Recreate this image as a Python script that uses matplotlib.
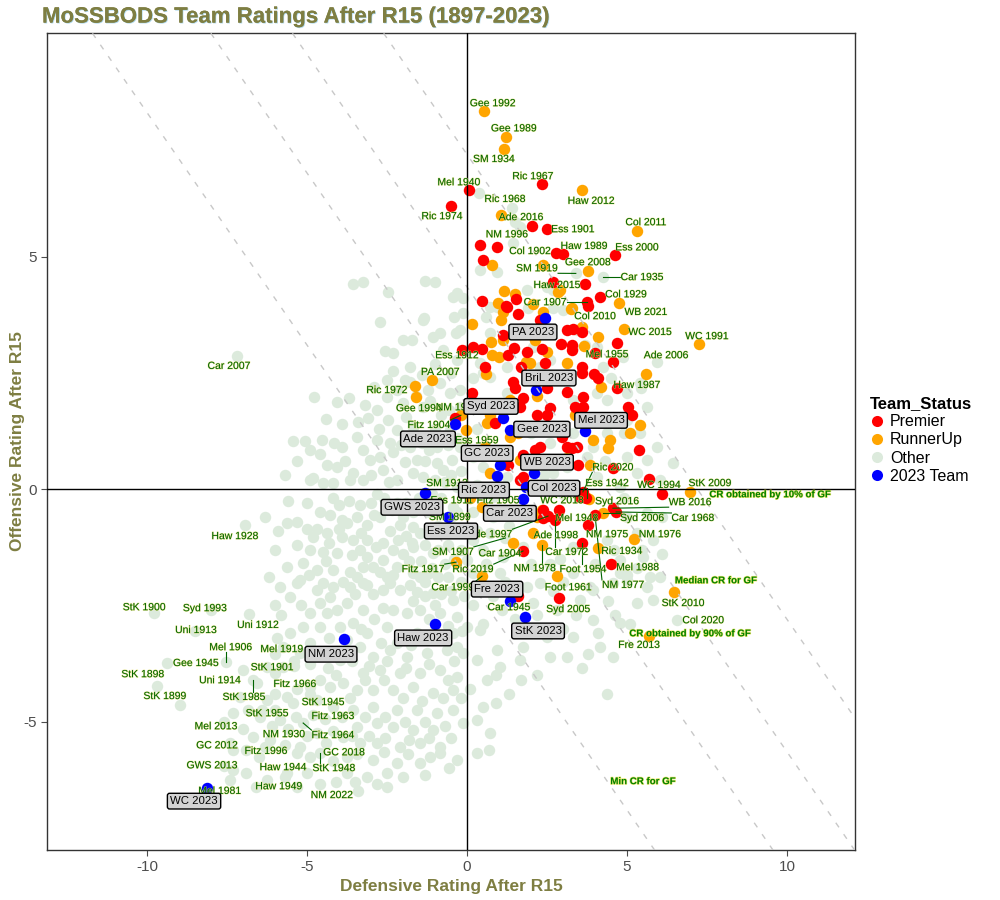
import matplotlib
matplotlib.use("Agg")
import matplotlib.pyplot as plt
import matplotlib.patheffects as pe
from matplotlib.lines import Line2D
import numpy as np

plt.rcParams['font.family'] = ['Liberation Sans', 'DejaVu Sans']
plt.rcParams['axes.unicode_minus'] = False

# ---- data: (defensive, offensive) ratings after R15 ----
# labelled historical teams
lab_names = ['Gee 1992', 'Gee 1989', 'SM 1934', 'Ric 1967', 'Mel 1940', 'Haw 2012', 'Ric 1968', 'Ric 1974',
             'Ade 2016', 'Ess 1901', 'NM 1996', 'Col 2011', 'Col 1902', 'Haw 1989', 'Ess 2000', 'SM 1919',
             'Gee 2008', 'Car 1935', 'Haw 2015', 'Col 1929', 'Car 1907', 'WB 2021', 'Col 2010', 'WC 2015',
             'WC 1991', 'Ess 1912', 'Mel 1955', 'Ade 2006', 'PA 2007', 'Haw 1987', 'Ric 1972', 'Gee 1994',
             'NM 1999', 'Fitz 1904', 'Ess 1959', 'SM 1913', 'Ess 1911', 'Fitz 1905', 'WC 2018', 'SM 1899',
             'Ade 1997', 'Mel 1948', 'Syd 2016', 'WB 2016', 'Car 1968', 'Syd 2006', 'Ric 2020', 'Ess 1942',
             'WC 1994', 'StK 2009', 'NM 1975', 'NM 1976', 'Ric 1934', 'Mel 1988', 'NM 1977', 'Ade 1998',
             'Car 1972', 'Car 1904', 'Ric 2019', 'NM 1978', 'Foot 1954', 'Foot 1961', 'Syd 2005', 'Car 1945',
             'Car 1999', 'Fitz 1917', 'SM 1907', 'StK 2010', 'Col 2020', 'Fre 2013', 'Car 2007', 'Haw 1928',
             'StK 1900', 'Syd 1993', 'Uni 1912', 'Uni 1913', 'Mel 1906', 'Mel 1919', 'Gee 1945', 'StK 1901',
             'StK 1898', 'Uni 1914', 'StK 1985', 'Fitz 1966', 'StK 1899', 'StK 1945', 'StK 1955', 'Fitz 1963',
             'Fitz 1964', 'Mel 2013', 'NM 1930', 'GC 2012', 'Fitz 1996', 'GC 2018', 'Haw 1944', 'StK 1948',
             'GWS 2013', 'Mel 1981', 'Haw 1949', 'NM 2022']
lab_status = ['RunnerUp', 'RunnerUp', 'RunnerUp', 'Premier', 'Premier', 'RunnerUp', 'Other', 'Premier',
              'Other', 'Premier', 'Other', 'RunnerUp', 'Premier', 'Premier', 'Premier', 'Other',
              'RunnerUp', 'Other', 'Premier', 'Premier', 'Premier', 'RunnerUp', 'RunnerUp', 'RunnerUp',
              'RunnerUp', 'Premier', 'Premier', 'Other', 'RunnerUp', 'RunnerUp', 'RunnerUp', 'RunnerUp',
              'Premier', 'RunnerUp', 'RunnerUp', 'Other', 'RunnerUp', 'RunnerUp', 'Premier', 'Other',
              'Premier', 'Premier', 'RunnerUp', 'Premier', 'Premier', 'RunnerUp', 'Premier', 'RunnerUp',
              'Premier', 'RunnerUp', 'Premier', 'RunnerUp', 'RunnerUp', 'Premier', 'Premier', 'RunnerUp',
              'Premier', 'RunnerUp', 'Premier', 'RunnerUp', 'Premier', 'RunnerUp', 'Premier', 'Premier',
              'RunnerUp', 'RunnerUp', 'Other', 'RunnerUp', 'Other', 'RunnerUp', 'Other', 'Other'] + ['Other'] * 28
lab_def = [0.53, 1.22, 1.16, 2.34, 0.06, 3.59, 1.41, -0.5, 1.5, 2.5, 1.45, 5.31, 2.78, 3.0, 4.63, 3.4,
           3.78, 4.25, 3.69, 4.16, 3.75, 4.75, 3.25, 4.9, 7.25, -0.16, 4.0, 5.94, -1.09, 5.59, -1.62, -1.59,
           -0.38, -0.19, -0.03, -0.3, 0.09, 0.47, 2.38, -0.3, 2.53, 2.88, 3.81, 4.56, 4.66, 4.25, 3.62, 3.75,
           5.69, 6.97, 3.78, 5.22, 4.09, 4.5, 4.0, 2.06, 2.75, 1.44, 1.75, 2.34, 3.59, 2.81, 2.88, 1.6,
           0.47, -0.34, 1.2, 6.47, 6.56, 5.69, -7.19, -6.94, -9.78, -8.0, -6.81, -8.5, -7.53, -5.4, -9.38, -6.0,
           -9.69, -7.0, -6.69, -5.62, -8.97, -4.9, -6.4, -4.8, -5.12, -7.6, -5.6, -7.4, -6.3, -4.4, -5.31, -4.59,
           -7.6, -7.41, -5.7, -4.59]
lab_off = [8.13, 7.57, 7.31, 6.56, 6.43, 6.43, 6.04, 6.1, 5.75, 5.59, 5.3, 5.55, 5.08, 5.06, 5.03, 4.64,
           4.69, 4.56, 4.41, 4.13, 4.02, 4.0, 3.87, 3.44, 3.12, 2.99, 2.92, 2.73, 2.34, 2.47, 2.21, 1.98,
           1.53, 1.59, 1.27, 0.05, -0.19, -0.39, -0.45, -0.5, -0.58, -0.45, -0.22, -0.41, -0.49, -0.52, -0.06, -0.19,
           0.22, -0.06, -0.77, -1.08, -1.27, -1.61, -0.56, -0.95, -0.67, -1.16, -1.33, -1.2, -1.16, -1.87, -2.34, -2.3,
           -1.87, -1.57, -1.05, -2.22, -2.82, -3.16, 2.86, -0.77, -2.67, -2.6, -2.69, -3.05, -3.72, -3.7, -3.74, -3.95,
           -4.24, -3.89, -4.11, -4.47, -4.65, -4.4, -4.75, -4.85, -5.03, -5.0, -5.15, -5.45, -5.55, -5.45, -5.68, -5.68,
           -5.95, -6.26, -6.2, -6.34]

# 2023 teams
team23_names = ['Ade 2023', 'BriL 2023', 'Car 2023', 'Col 2023', 'Ess 2023', 'Fre 2023', 'GC 2023', 'Gee 2023',
                'GWS 2023', 'Haw 2023', 'Mel 2023', 'NM 2023', 'PA 2023', 'Ric 2023', 'StK 2023', 'Syd 2023',
                'WB 2023', 'WC 2023']
team23_def = [-0.38, 2.16, 1.75, 1.84, -0.59, 1.34, 1.03, 1.34, -1.31, -1.0, 3.69, -3.84, 2.44, 0.94, 1.81, 1.13,
              2.09, -8.13]
team23_off = [1.40, 2.13, -0.22, 0.04, -0.6, -2.41, 0.52, 1.27, -0.09, -2.9, 1.25, -3.23, 3.68, 0.28, -2.75, 1.53,
              0.34, -6.43]

# unlabelled premiers
premier_pts = [(2.03, 5.67), (0.41, 5.25), (0.94, 5.2), (0.5, 4.92), (2.69, 4.45), (3.78, 3.93), (0.47, 4.04),
               (1.53, 4.09), (1.22, 3.94), (1.59, 3.76), (2.28, 3.63), (3.12, 3.42), (3.31, 3.44), (3.59, 3.38),
               (1.12, 3.31), (2.94, 3.12), (3.28, 3.1), (3.28, 2.99), (4.69, 3.14), (0.19, 3.05), (0.47, 3.01),
               (1.47, 3.03), (1.28, 2.88), (0.56, 2.62), (1.69, 2.62), (2.44, 2.71), (3.59, 2.62), (3.59, 2.49),
               (3.97, 2.47), (4.09, 2.39), (4.56, 2.73), (0.16, 2.06), (1.44, 2.3), (1.5, 2.17), (2.5, 2.17),
               (3.12, 2.09), (3.62, 1.98), (4.69, 2.17), (1.75, 1.96), (5.03, 1.76), (5.16, 1.59), (3.37, 1.76),
               (3.62, 1.76), (2.19, 1.59), (2.5, 1.59), (2.59, 1.74), (2.97, 1.12), (3.12, 0.9), (3.28, 0.88),
               (3.44, 0.9), (5.37, 0.84), (2.28, 0.9), (2.12, 0.84), (1.75, 0.73), (1.91, 0.62), (3.47, 0.52),
               (4.56, 0.45), (1.28, 0.52), (3.72, -0.19), (3.53, -0.17), (6.09, -0.11), (2.38, -0.62),
               (1.66, 0.19), (1.75, 0.26), (0.88, 1.42), (1.87, 2.95), (2.34, 3.01), (1.25, 3.91), (1.66, 1.76)]

# unlabelled runners-up
runnerup_pts = [(1.06, 5.89), (0.78, 4.82), (2.38, 4.82), (2.91, 4.28), (1.16, 4.26), (1.5, 4.19), (2.84, 4.24),
                (0.97, 4.0), (1.12, 3.81), (1.06, 3.63), (2.38, 3.81), (3.28, 3.89), (3.59, 3.49), (0.16, 3.55),
                (0.75, 3.16), (1.12, 3.2), (4.09, 3.27), (3.66, 3.08), (2.12, 3.2), (0.78, 2.88), (1.0, 2.84),
                (1.84, 2.73), (1.97, 2.71), (2.5, 2.95), (3.12, 2.71), (0.59, 2.47), (4.19, 2.19), (2.19, 2.0),
                (1.34, 1.91), (5.41, 1.38), (5.09, 1.2), (4.47, 1.05), (3.94, 1.05), (4.41, 0.88), (0.62, 1.42),
                (0.72, 1.59), (1.34, 1.12), (1.59, 1.2), (3.37, 1.59), (3.12, 0.67), (2.75, 0.62), (1.66, 0.62),
                (0.72, 0.34), (3.84, 0.52), (2.34, -0.45), (0.56, 0.9), (2.19, -0.6), (2.06, 3.98)]

# everything else
other_pts = [
    (-3.56, 4.41), (-3.25, 4.45), (-2.47, 4.24), (-1.31, 4.47), (-1.0, 4.45), (-0.44, 4.13), (-0.12, 4.11),
    (-2.72, 3.59), (-1.34, 3.68), (-0.34, 3.35), (-1.72, 3.2), (-2.0, 3.2), (-2.56, 2.97), (-2.31, 2.92),
    (-1.06, 3.27), (-0.75, 2.99), (-0.31, 2.77), (-1.78, 2.62), (-2.5, 2.34), (-1.94, 2.34), (-1.78, 2.3),
    (-1.22, 2.13), (-2.19, 2.13), (-0.84, 2.28), (-0.53, 2.06), (-0.22, 2.13), (-4.78, 1.98), (-4.06, 1.87),
    (-3.69, 1.96), (-3.19, 1.81), (-3.09, 1.53), (-2.47, 1.48), (-2.5, 1.98), (-2.0, 1.85), (-1.37, 1.76),
    (-2.19, 1.27), (-1.69, 1.33), (-0.53, 1.27), (-5.44, 1.03), (-5.06, 1.03), (-4.53, 1.05), (-4.16, 0.99),
    (-3.91, 0.9), (-3.44, 1.12), (-2.81, 1.05), (-2.41, 0.99), (-1.78, 0.9), (-0.94, 0.9), (-3.25, 0.84),
    (-5.31, 0.6), (-4.38, 0.52), (-4.06, 0.47), (-3.56, 0.34), (-4.81, 0.24), (-3.03, 0.62), (-2.72, 0.69),
    (-2.31, 0.8), (-1.94, 0.58), (-1.56, 0.62), (-2.62, 0.41), (-2.19, 0.19), (-1.69, 0.34), (-0.94, 0.56),
    (-0.47, 0.62), (-0.75, 0.41), (-1.37, 0.26), (-4.19, 0.13), (-3.25, 0.19), (-3.66, 0.19), (-4.5, 0.13),
    (-4.91, 0.19),
    (-0.8, -0.2), (-0.5, 0.3), (-0.2, -0.85), (0.3, -0.9), (0.5, -1.3), (-0.6, -1.2), (-0.9, -0.8), (-1.2, -0.5),
    (-1.5, -0.2), (-1.0, 0.2), (-1.3, 0.6), (-0.6, 0.95), (-0.2, 0.4), (0.3, 0.1), (0.2, -0.5), (-0.8, 1.6),
    (-0.3, 1.1), (-1.0, 1.3), (-1.4, 1.0), (-0.7, -1.6), (-0.2, -2.0), (-0.5, -2.2), (-0.9, -1.9), (-1.3, -2.3),
    (-1.9, -0.3), (-2.6, -0.2), (-3.0, -0.3), (-3.7, -0.25), (-4.2, -0.2), (-5.0, -0.3),
    (-5.62, -0.73), (-5.31, -0.71), (-4.59, -0.49), (-4.28, -0.56), (-3.91, -0.67), (-3.44, -0.6), (-3.12, -0.77),
    (-2.72, -0.6), (-2.34, -0.45), (-2.0, -0.6), (-1.69, -0.82), (-3.75, -0.73), (-2.09, -0.78), (-1.47, -0.95),
    (-4.81, -1.03), (-4.38, -0.95), (-3.91, -1.03), (-3.56, -1.1), (-3.12, -1.1), (-2.62, -1.16), (-2.16, -1.1),
    (-1.72, -1.16), (-1.06, -1.38), (-4.91, -1.31), (-4.5, -1.35), (-4.06, -1.38), (-3.59, -1.42), (-3.12, -1.46),
    (-2.62, -1.53), (-2.31, -1.31), (-1.69, -1.25), (-5.62, -1.68), (-5.12, -1.59), (-4.69, -1.74), (-4.19, -1.74),
    (-3.66, -1.78), (-3.25, -1.68), (-2.72, -1.78), (-2.19, -1.68), (-1.69, -1.81), (-1.09, -1.7), (-2.94, -1.68),
    (-2.5, -1.89), (-1.47, -1.89), (-5.31, -2.02), (-4.5, -2.02), (-3.87, -2.0), (-3.25, -2.02), (-2.41, -2.02),
    (-1.78, -2.06), (-5.22, -1.96), (-4.69, -2.17), (-4.19, -2.11), (-3.66, -2.11), (-3.12, -2.06), (-2.62, -2.17),
    (-2.09, -2.17), (-1.56, -2.22), (-1.06, -2.24), (-0.44, -2.39), (-5.53, -2.32), (-4.28, -2.32), (-3.75, -2.45),
    (-3.25, -2.6), (-2.62, -2.56), (-1.87, -2.67), (-1.47, -2.6), (-0.84, -2.67), (-0.31, -2.75), (-4.91, -2.67),
    (-4.38, -2.67), (-6.0, -2.5), (-6.2, -1.9), (-6.0, -1.3), (-5.53, -3.1), (-5.12, -2.97), (-4.59, -2.97),
    (-3.97, -2.97), (-3.56, -2.88), (-3.12, -3.1), (-2.5, -2.97), (-2.0, -3.18), (-1.56, -3.1), (-0.44, -3.1),
    (0.0, -2.97), (-1.0, -2.5), (-5.75, -3.4), (-5.22, -3.53), (-3.34, -3.4), (-2.94, -3.61), (-2.41, -3.46),
    (-1.87, -3.61), (-1.25, -3.53), (-0.62, -3.46), (-0.12, -3.53), (-4.6, -3.5), (-6.25, -3.83), (-5.75, -3.83),
    (-3.97, -3.68), (-3.25, -3.96), (-2.72, -3.89), (-2.09, -3.96), (-1.47, -3.96), (-0.84, -3.89), (-0.31, -4.04),
    (-6.56, -4.17), (-4.91, -4.26), (-4.28, -4.26), (-3.87, -4.17), (-3.44, -4.32), (-2.94, -4.32), (-2.31, -4.32),
    (-1.69, -4.26), (-1.06, -4.39), (-0.44, -4.32), (-7.09, -4.47), (-6.25, -4.54), (-5.44, -4.6), (-4.69, -4.54),
    (-4.19, -4.69), (-3.56, -4.75), (-2.94, -4.69), (-2.19, -4.75), (-1.56, -4.75), (-0.94, -4.82), (-0.44, -4.75),
    (-7.31, -4.82), (-6.47, -4.9), (-5.84, -4.97), (-3.44, -5.12), (-2.81, -5.03), (-2.31, -5.12), (-1.69, -5.18),
    (-1.06, -5.18), (-0.12, -5.03), (-6.69, -5.33), (-6.16, -5.4), (-4.69, -5.25), (-3.87, -5.33), (-3.34, -5.46),
    (-2.81, -5.46), (-2.09, -5.55), (-1.47, -5.46), (-0.84, -5.55), (-7.31, -5.61), (-5.22, -5.55), (-3.75, -5.76),
    (-2.94, -5.83), (-2.19, -5.89), (-1.47, -5.89), (-0.84, -5.68), (-0.31, -5.83), (-7.31, -6.04), (-5.62, -6.11),
    (-3.75, -6.11), (-3.12, -6.19), (-2.5, -6.11), (-6.25, -6.26), (-2.5, -6.4), (-3.4, -6.5),
    (0.81, -0.17), (-0.44, -0.39), (5.0, -0.6), (5.62, -0.52), (5.81, -1.1), (4.38, -1.1), (3.31, -1.25),
    (1.75, -1.25), (1.12, -1.46), (0.72, -0.95), (0.19, -1.1), (0.0, -1.53), (1.03, -1.81), (1.87, -2.11),
    (3.31, -1.81), (3.84, -2.11), (5.0, -1.96), (5.62, -2.11), (6.03, -1.89), (4.78, -1.53), (5.5, -1.46),
    (2.28, -2.02), (2.06, -2.45), (2.81, -2.6), (3.53, -2.39), (3.94, -2.17), (4.56, -2.02), (4.78, -1.81),
    (5.72, -1.89), (5.31, -2.45), (4.78, -2.88), (3.94, -2.82), (3.31, -3.18), (2.5, -3.18), (1.75, -3.4),
    (0.94, -3.46), (0.41, -3.03), (0.31, -3.68), (1.03, -3.83), (1.66, -3.68), (-0.31, -3.4), (3.12, -3.61),
    (4.16, -3.4), (4.56, -3.61), (5.81, -2.39), (4.62, -2.71), (3.78, -3.55), (3.59, -3.85), (4.38, -4.41),
    (5.47, -1.31), (5.0, -1.85), (0.62, -4.11), (0.5, -4.69), (0.31, -4.97), (0.72, -5.25), (0.31, -5.68),
    (1.3, -4.4), (2.2, -4.0), (1.5, -2.8), (0.8, -2.3), (0.2, -2.5), (1.2, -2.0), (2.6, -1.6),
    (0.38, 6.37), (1.66, 5.63), (0.41, 4.71), (0.94, 4.67), (1.87, 4.28), (2.69, 4.28), (3.0, 3.85), (0.72, 3.91),
    (1.87, 3.42), (-0.31, 4.22), (-0.12, 3.78), (-0.84, 3.35), (-1.37, 3.63), (3.44, 3.42), (4.06, 3.05),
    (4.88, 2.84), (3.31, 3.05), (2.28, 2.62), (1.25, 2.62), (0.41, 2.71), (4.25, 2.62), (0.94, 3.91), (2.5, 4.34),
    (5.41, 2.28), (5.0, 2.06), (4.38, 1.91), (5.62, 1.76), (5.41, 1.2), (5.94, 0.9), (5.62, 0.62), (6.44, 0.56),
    (5.31, 0.34), (6.03, 0.19), (5.0, 0.69), (4.78, 0.04), (4.06, 0.26), (3.94, 0.9), (3.75, 0.69), (2.69, 0.34),
    (3.12, 0.47), (-0.22, 3.42), (0.72, 3.35), (2.06, 3.05), (2.59, 2.77), (0.5, 2.49), (2.91, 2.41), (1.25, 2.06),
    (3.31, 1.91), (4.06, 2.06), (-0.22, 1.76), (0.72, 2.41), (0.19, 0.69), (-0.22, 0.9), (0.5, 0.47), (3.31, 1.2),
    (4.38, 1.2), (4.16, 1.48), (5.0, 1.48), (1.25, 0.26), (5.44, 2.17),
    (-5.9, -0.9), (-5.0, -0.85), (-4.0, -0.85), (-3.3, -0.95), (-2.9, -0.55), (-2.4, -0.9), (-1.9, -1.0),
    (-1.3, -1.2), (-0.9, -1.3), (-0.4, -1.5), (-5.3, -1.2), (-4.3, -1.15), (-3.35, -1.3), (-2.85, -1.25),
    (-2.0, -1.4), (-1.45, -1.55), (-1.2, -1.8), (-0.6, -1.9), (-0.2, -1.3), (-5.85, -2.1), (-4.95, -1.85),
    (-4.4, -1.55), (-3.45, -1.9), (-2.95, -2.25), (-2.3, -1.85), (-1.8, -1.55), (-1.3, -2.0), (-0.8, -2.25),
    (-0.1, -2.3), (-5.8, -2.7), (-5.2, -2.5), (-4.6, -2.45), (-4.05, -2.6), (-3.5, -2.25), (-2.9, -2.8),
    (-2.3, -2.6), (-1.7, -2.4), (-1.2, -2.8), (-0.6, -2.95), (-0.15, -3.05), (-5.95, -3.2), (-4.9, -3.3),
    (-4.3, -3.2), (-3.75, -3.25), (-3.3, -3.0), (-2.7, -3.3), (-2.2, -3.3), (-1.75, -3.35), (-1.05, -3.2),
    (-0.4, -3.7), (-6.0, -3.55), (-5.4, -3.8), (-4.9, -3.75), (-4.35, -3.85), (-3.6, -3.7), (-3.05, -3.8),
    (-2.5, -3.7), (-1.9, -3.85), (-1.2, -3.75), (-0.6, -4.1), (-6.0, -4.4), (-5.3, -4.3), (-4.6, -4.1),
    (-4.1, -4.0), (-3.65, -4.5), (-3.2, -4.1), (-2.6, -4.1), (-2.0, -4.5), (-1.4, -4.55), (-0.75, -4.5),
    (-0.2, -4.5), (-6.85, -4.75), (-6.0, -4.75), (-5.35, -4.9), (-4.45, -4.95), (-3.9, -4.9), (-3.2, -4.9),
    (-2.55, -4.9), (-1.95, -5.0), (-1.3, -5.0), (-0.7, -5.1), (-7.0, -5.15), (-6.1, -5.1), (-5.0, -5.3),
    (-4.2, -5.2), (-3.6, -5.3), (-3.05, -5.3), (-2.55, -5.35), (-1.8, -5.4), (-1.2, -5.35), (-0.5, -5.35),
    (-6.9, -5.6), (-6.5, -5.75), (-5.7, -5.5), (-4.9, -5.75), (-4.2, -5.85), (-3.45, -5.7), (-2.6, -5.65),
    (-1.85, -5.7), (-1.15, -5.75), (-0.55, -6.0), (-6.9, -6.1), (-5.0, -6.1), (-4.1, -6.3), (-3.5, -6.3),
    (-2.8, -6.35), (-2.0, -6.2), (-1.3, -6.15), (-6.6, -6.4), (-5.3, -6.4), (-4.7, -0.85), (-4.0, -0.35),
    (-3.35, -0.35), (-2.8, -0.1), (-2.2, -0.3), (-1.7, -0.5), (-1.1, -0.1), (-0.5, -0.6), (-4.6, 0.75),
    (-3.8, 0.6), (-3.0, 0.3), (-2.45, 0.15), (-2.05, 0.95), (-1.2, 0.85), (-0.7, 0.15), (-4.9, 0.85),
    (-5.7, 0.3), (-5.6, -0.25), (-6.3, -0.6), (-2.75, 1.3), (-3.4, 1.45), (-3.9, 1.4), (-4.4, 1.5),
    (-1.9, 1.55), (-1.6, 2.0), (-2.8, 1.7), (-1.15, 1.9), (-0.55, 1.7), (-2.9, 2.2), (-2.3, 2.55),
    (-1.4, 2.45), (-1.0, 2.7), (-0.5, 2.5), (0.2, -1.8), (0.6, -1.6), (0.5, -2.9), (1.1, -2.6), (1.6, -2.2),
    (2.2, -2.7), (2.7, -2.2), (3.0, -3.0), (1.9, -3.0), (0.9, -4.0), (1.7, -4.1), (2.6, -3.6), (3.0, -2.0),
    (0.1, -4.3), (0.9, -4.6), (0.7, -5.6), (0.8, -0.6), (1.3, -0.8), (2.0, -1.6), (2.9, -1.5), (4.0, -1.6),
    (4.4, -2.4), (3.4, -2.7), (4.1, -3.1), (5.1, -2.9), (4.6, -1.3), (5.3, -1.7), (6.1, -1.4), (6.1, -0.6),
    (5.3, -0.95), (0.1, 1.9), (0.3, 1.3), (0.2, 2.4), (0.0, 3.0), (-0.4, 3.7), (0.6, 3.7), (1.9, 3.9),
    (2.4, 3.4), (2.7, 3.9), (3.7, 3.1), (4.5, 2.4), (4.9, 1.2), (2.0, 1.2), (2.6, 1.0), (2.4, 0.3),
    (3.0, -0.1), (4.3, 0.6), (4.9, -0.2),
]

# reference lines: offensive + defensive = combined rating (CR)
cr_values = [7.2, 4.35, 1.8, -1.9]
cr_texts = ['CR obtained by 10% of GF', 'Median CR for GF', 'CR obtained by 90% of GF', 'Min CR for GF']

# ---- layout (label positions, data units) ----
label_pos = [(0.81, 8.30), (1.47, 7.76), (0.84, 7.10), (2.06, 6.73), (-0.25, 6.60), (3.88, 6.20), (1.19, 6.24),
             (-0.78, 5.87), (1.69, 5.85), (3.31, 5.59), (1.25, 5.48), (5.59, 5.74), (1.97, 5.12), (3.66, 5.23),
             (5.31, 5.2), (2.19, 4.75), (3.78, 4.88), (5.47, 4.56), (2.81, 4.39), (4.97, 4.19), (2.44, 4.02),
             (5.59, 3.81), (4.0, 3.72), (5.72, 3.38), (7.5, 3.29), (-0.31, 2.88), (4.38, 2.9), (6.22, 2.88),
             (-0.84, 2.52), (5.31, 2.24), (-2.5, 2.13), (-1.5, 1.74), (-0.31, 1.76), (-1.19, 1.38), (0.31, 1.05),
             (-0.62, 0.13), (-0.47, -0.24), (0.97, -0.24), (2.97, -0.24), (-0.53, -0.6), (0.72, -0.97),
             (3.44, -0.62), (4.69, -0.26), (6.97, -0.28), (7.06, -0.62), (5.47, -0.62), (4.56, 0.47), (4.38, 0.13),
             (6.0, 0.09), (7.59, 0.13), (4.38, -0.97), (6.03, -0.97), (4.84, -1.33), (5.34, -1.68), (4.88, -2.06),
             (2.78, -0.99), (3.12, -1.35), (1.03, -1.38), (0.19, -1.72), (2.12, -1.7), (3.62, -1.72), (3.16, -2.11),
             (3.16, -2.58), (1.31, -2.54), (-0.44, -2.11), (-1.37, -1.72), (-0.44, -1.35), (6.75, -2.45),
             (7.38, -2.82), (5.38, -3.35), (-7.44, 2.65), (-7.25, -1.01), (-10.09, -2.54), (-8.19, -2.56),
             (-6.53, -2.92), (-8.47, -3.03), (-7.38, -3.4), (-5.78, -3.44), (-8.47, -3.74), (-6.09, -3.83),
             (-10.13, -3.98), (-7.72, -4.11), (-6.97, -4.47), (-5.38, -4.19), (-9.44, -4.45), (-4.5, -4.58),
             (-6.25, -4.82), (-4.19, -4.88), (-4.19, -5.29), (-7.84, -5.1), (-5.72, -5.27), (-7.81, -5.51),
             (-6.28, -5.63), (-3.84, -5.66), (-5.75, -5.98), (-4.16, -6.0), (-7.97, -5.94), (-7.72, -6.49),
             (-5.88, -6.39), (-4.22, -6.58)]
team23_label_pos = [(-1.22, 1.08), (2.56, 2.39), (1.34, -0.52), (2.72, 0.02), (-0.5, -0.9), (0.94, -2.15),
                    (0.63, 0.77), (2.34, 1.29), (-1.72, -0.39), (-1.37, -3.2), (4.19, 1.48), (-4.25, -3.55),
                    (2.06, 3.38), (0.53, -0.02), (2.22, -3.05), (0.75, 1.78), (2.5, 0.58), (-8.53, -6.71)]
cr_label_pos = [(9.47, -0.11), (7.78, -1.96), (6.97, -3.1), (5.5, -6.28)]

colours = {'Premier': '#FF0000', 'RunnerUp': '#FFA500', 'Other': '#DCEADC', '2023 Team': '#0000FF'}
olive = '#7E7E42'

fig = plt.figure(figsize=(10, 9), dpi=100)
ax = fig.add_axes([0.047, 0.0556, 0.808, 0.9077])
ax.set_xlim(-13.125, 12.125)
ax.set_ylim(-7.76, 9.81)

ms = 68
lab_def = np.array(lab_def)
lab_off = np.array(lab_off)
lab_status = np.array(lab_status)

ox, oy = zip(*other_pts)
ax.scatter(ox, oy, s=ms, color=colours['Other'], lw=0, zorder=2)
m = lab_status == 'Other'
ax.scatter(lab_def[m], lab_off[m], s=ms, color=colours['Other'], lw=0, zorder=2)

rx, ry = zip(*runnerup_pts)
ax.scatter(rx, ry, s=ms, color=colours['RunnerUp'], lw=0, zorder=2.2)
m = lab_status == 'RunnerUp'
ax.scatter(lab_def[m], lab_off[m], s=ms, color=colours['RunnerUp'], lw=0, zorder=2.2)

px_, py_ = zip(*premier_pts)
ax.scatter(px_, py_, s=ms, color=colours['Premier'], lw=0, zorder=2.4)
m = lab_status == 'Premier'
ax.scatter(lab_def[m], lab_off[m], s=ms, color=colours['Premier'], lw=0, zorder=2.4)

ax.scatter(team23_def, team23_off, s=ms, color=colours['2023 Team'], lw=0, zorder=2.6)

# CR diagonals
xs = np.array(ax.get_xlim())
for c in cr_values:
    ax.plot(xs, c - xs, color='#C8C8C8', lw=1, ls=(0, (4, 6)), zorder=3)

ax.axhline(0, color='black', lw=1, zorder=3.2)
ax.axvline(0, color='black', lw=1, zorder=3.2)

halo = [pe.withStroke(linewidth=0.8, foreground='#E8E070', alpha=0.6)]
texts = []
for name, (lx, ly) in zip(lab_names, label_pos):
    t = ax.text(lx, ly, name, fontsize=7.5, color='#006400', ha='center', va='center',
                path_effects=halo, zorder=6)
    texts.append(t)

for name, (lx, ly) in zip(team23_names, team23_label_pos):
    ax.text(lx, ly, name, fontsize=8.2, color='black', ha='center', va='center', zorder=7,
            bbox=dict(boxstyle='round,pad=0.25,rounding_size=0.2', fc='#D3D3D3', ec='black', lw=1))

for txt, (lx, ly) in zip(cr_texts, cr_label_pos):
    ax.text(lx, ly, txt, fontsize=7, fontweight='bold', color='#008000', ha='center', va='center',
            path_effects=[pe.withStroke(linewidth=1.0, foreground='#E8E040', alpha=0.7)], zorder=6)

ax.set_xticks([-10, -5, 0, 5, 10])
ax.set_yticks([-5, 0, 5])
ax.tick_params(colors='#4D4D4D', labelsize=11, length=4, width=0.8)
for s in ax.spines.values():
    s.set_color('#333333')
    s.set_linewidth(1)

ax.set_xlabel('Defensive Rating After R15', fontsize=12.5, fontweight='bold', color=olive, labelpad=3)
ax.set_ylabel('Offensive Rating After R15', fontsize=12.5, fontweight='bold', color=olive)
ax.yaxis.label.set_va('center')
ax.yaxis.set_label_coords(-0.037, 0.5)
fig.text(0.042, 0.981, 'MoSSBODS Team Ratings After R15 (1897-2023)', fontsize=16, fontweight='bold',
         color=olive, va='center',
         path_effects=[pe.withSimplePatchShadow(offset=(0.6, -0.6), shadow_rgbFace='#B0DAF0', alpha=1),
                       pe.Normal()])

handles = [Line2D([], [], marker='o', ls='none', markersize=8, markerfacecolor=colours[k],
                  markeredgewidth=0) for k in colours]
leg = fig.legend(handles, list(colours), title='Team_Status', loc='upper left',
                 bbox_to_anchor=(0.863, 0.567), frameon=False, fontsize=11.5,
                 title_fontproperties={'weight': 'bold', 'size': 12}, labelspacing=0.2,
                 handletextpad=0.3, handlelength=1.0, borderaxespad=0, alignment='left')

# leader segments, like ggrepel: only where the label sits away from its point
fig.canvas.draw()
r = fig.canvas.get_renderer()
for t, x0, y0 in zip(texts, lab_def, lab_off):
    bb = t.get_window_extent(r)
    p = ax.transData.transform((x0, y0))
    cx = min(max(p[0], bb.x0), bb.x1)
    cy = min(max(p[1], bb.y0), bb.y1)
    if np.hypot(p[0] - cx, p[1] - cy) > 9:
        q = ax.transData.inverted().transform((cx, cy))
        ax.plot([x0, q[0]], [y0, q[1]], color='#006400', lw=0.8, zorder=5.5)

fig.savefig('out.png', dpi=100)
